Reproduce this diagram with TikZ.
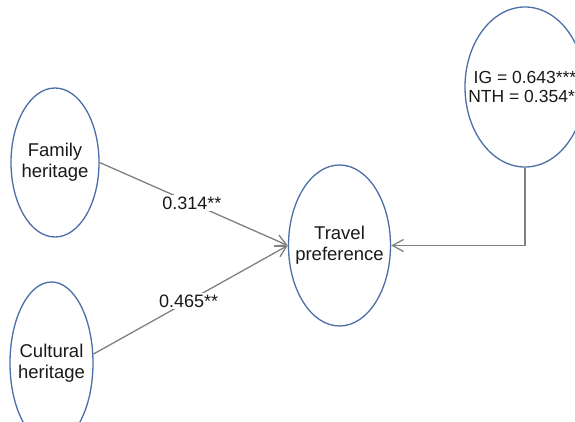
\documentclass[tikz,border=0pt]{standalone}
\usepackage{fontspec}
\setmainfont{Liberation Sans}
\usetikzlibrary{arrows.meta,shapes.geometric}
\definecolor{rim}{RGB}{74,110,165}
\definecolor{wire}{RGB}{128,128,128}
\definecolor{ink}{RGB}{25,25,25}
\begin{document}
\begin{tikzpicture}[x=1pt,y=-1pt,
  construct/.style={draw=rim, line width=1.3pt, ellipse, inner sep=0pt},
  caption/.style={text=ink, align=center, inner sep=0pt,
    font=\fontsize{18.5}{21}\selectfont},
  link/.style={draw=wire, line width=1.3pt,
    -{Straight Barb[length=11pt,width=12pt,line width=1.3pt]}},
  coef/.style={fill=white, inner sep=1.5pt, text=ink,
    font=\fontsize{18}{20}\selectfont}]
\clip (0,0) rectangle (575,422);
% constructs (outline sizes fixed, text set as centred labels)
\node[construct, minimum width=88pt, minimum height=149pt,
  label={[caption]center:Family\\heritage}] (fam) at (55,162.5) {};
\node[construct, minimum width=83pt, minimum height=162pt,
  label={[caption]center:Cultural\\heritage}] (cult) at (51.5,363) {};
\node[construct, minimum width=102pt, minimum height=161pt,
  label={[caption]center:Travel\\preference}] (trav) at (339.5,245.5) {};
\node[construct, minimum width=120pt, minimum height=160pt,
  label={[caption, font=\fontsize{17.5}{19}\selectfont]center:IG = 0.643***\\NTH = 0.354**}] (ig) at (525,87) {};
% paths with coefficients
\draw[link] (fam.east) -- node[coef, pos=0.49] {0.314**} (trav.west);
\draw[link] (cult.12) -- node[coef, pos=0.49] {0.465**} (trav.west);
\draw[link] (ig.south) |- (trav.east);
\end{tikzpicture}
\end{document}
